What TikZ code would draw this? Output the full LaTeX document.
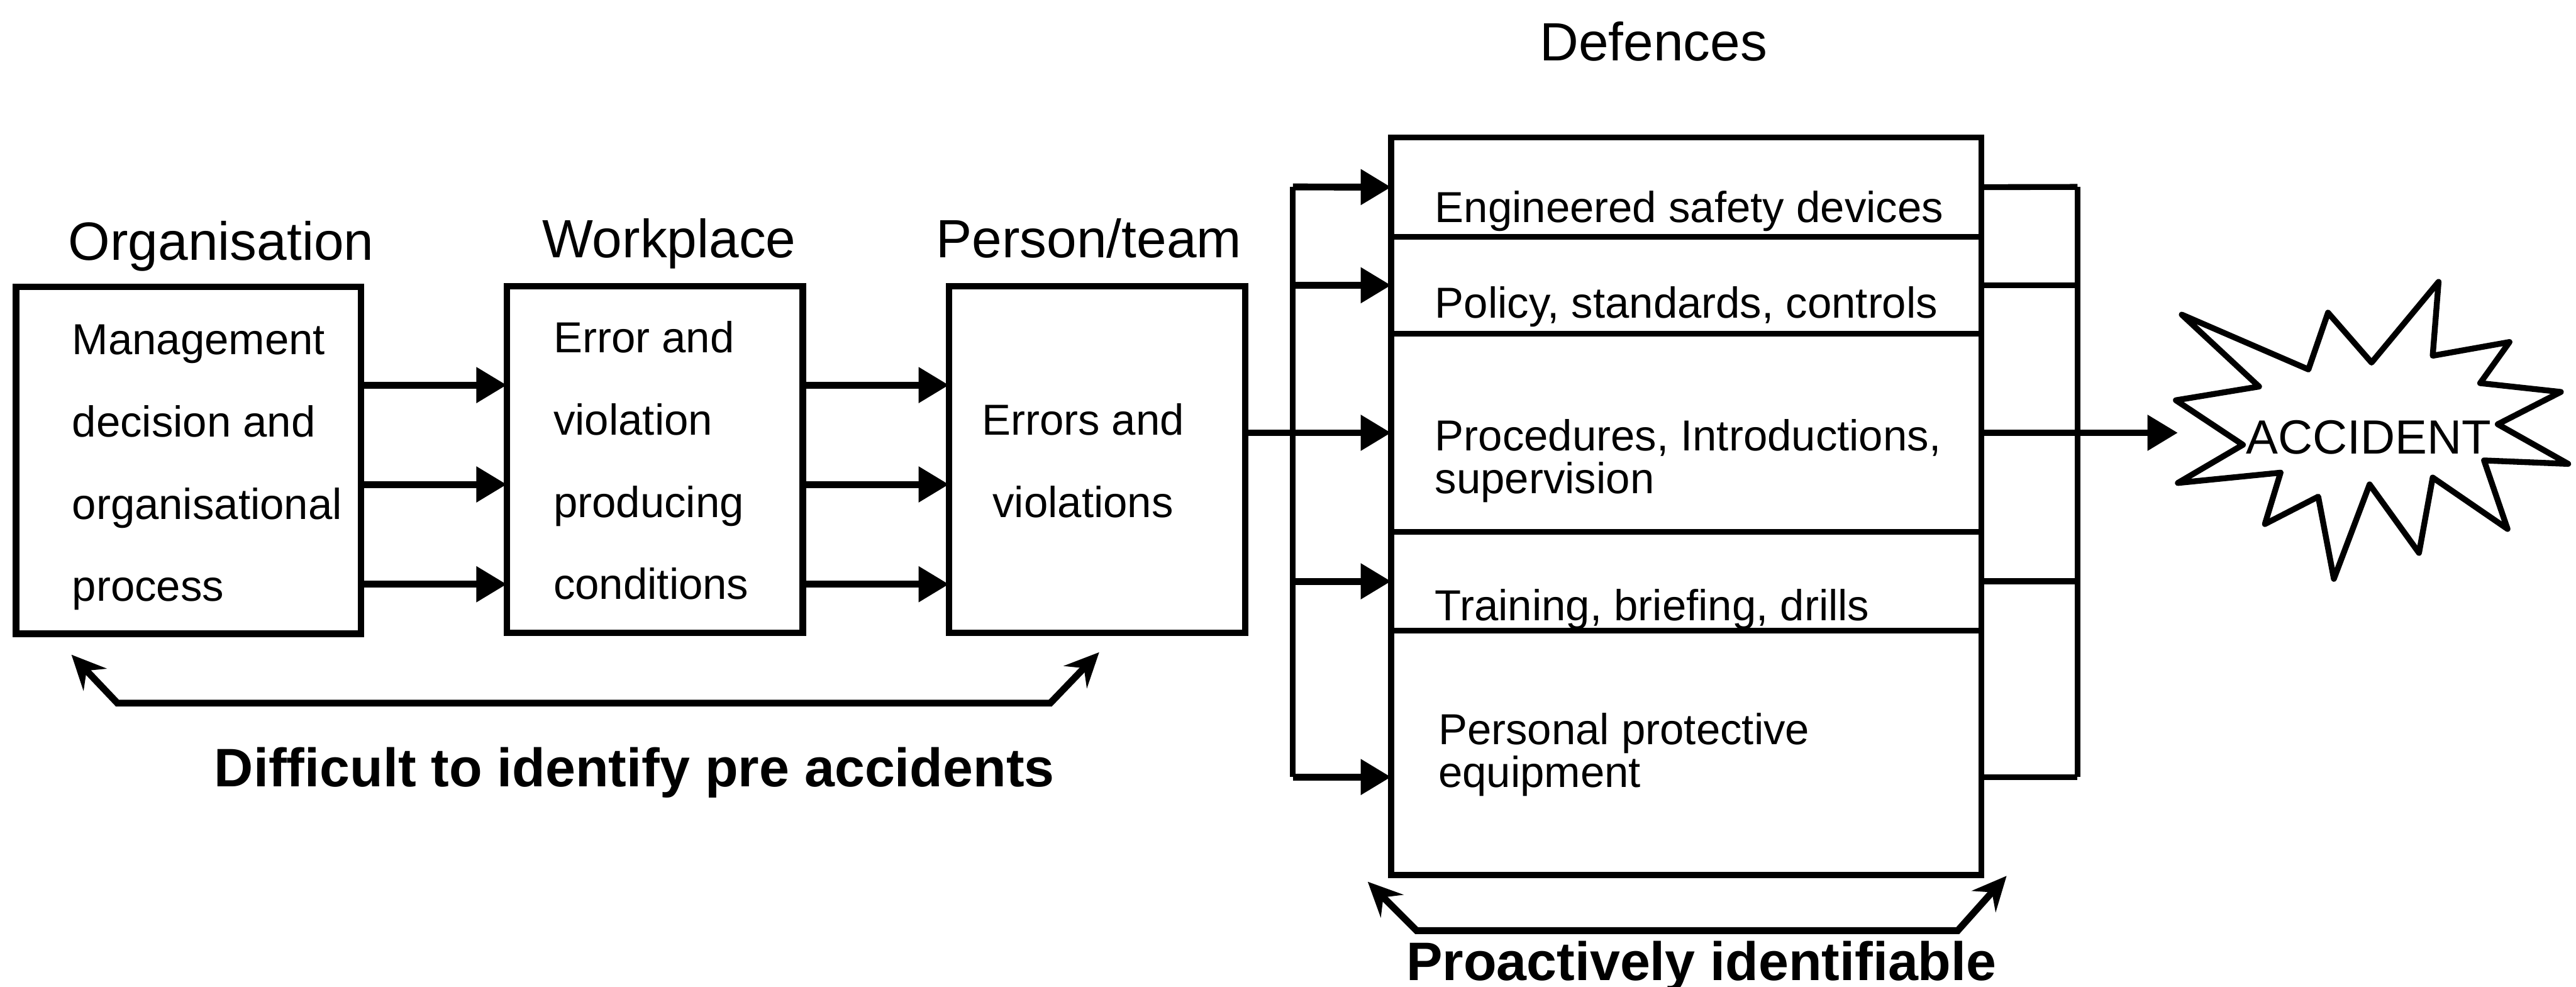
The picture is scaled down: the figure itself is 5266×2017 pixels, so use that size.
\documentclass[tikz,border=0pt]{standalone}
\usepackage{fontspec}
\setmainfont{Liberation Sans}
\usetikzlibrary{arrows.meta,calc}
\newcommand\looselines{\lineskiplimit=-100pt\relax}
\begin{document}
\begin{tikzpicture}[x=0.01cm,y=-0.01cm,
  line width=1.3mm,
  box/.style={draw, rectangle, line width=1.3mm, inner sep=0pt, outer sep=0pt},
  layer/.style={box, line width=1.2mm, minimum width=12.06cm},
  title/.style={font=\fontsize{31.3}{36}\selectfont, inner sep=0pt, anchor=base},
  body/.style={font={\fontsize{25.2}{47.8}\selectfont\looselines}, inner sep=0pt, align=left, anchor=base west},
  tight/.style={font={\fontsize{25.2}{24.8}\selectfont\looselines}, inner sep=0pt, align=left, anchor=base west},
  caption/.style={font=\fontsize{31.5}{36}\selectfont\bfseries, inner sep=0pt, anchor=base},
  arr/.style={line width=1.4mm, -{Triangle[length=6.2mm, width=7mm]}},
  link/.style={line width=1.2mm},
  span/.style={line width=1.4mm, line join=miter,
    {Stealth[length=7mm, width=6.5mm, inset=2.5mm]}-{Stealth[length=7mm, width=6.5mm, inset=2.5mm]}},
]
\useasboundingbox[fill=white] (0,0) rectangle (5266,2017);

% ---- causal chain: organisation -> workplace -> person/team ----
\node[box, minimum width=7.05cm, minimum height=7.08cm] (org) at (385.5,941) {};
\node[box, minimum width=6.05cm, minimum height=7.08cm] (wp)  at (1338.5,939) {};
\node[box, minimum width=6.05cm, minimum height=7.08cm] (per) at (2242.5,939) {};

\node[title] (orgT) at (452,531)  {Organisation};
\node[title] (wpT)  at (1368,527) {Workplace};
\node[title] (perT) at (2226,527) {Person/team};

% multi-line texts are anchored on the baseline of their last line
\node[body] (orgX) at (141,1229)  {Management\\decision and\\organisational\\process};
\node[body] (wpX)  at (1125,1225) {Error and\\violation\\producing\\conditions};
\node[body, align=center, anchor=base] (perX) at (2214,1057) {Errors and\\violations};

\foreach \i/\y in {1/787,2/990,3/1194}{
  \coordinate (lv\i) at (0,\y);
  \draw[arr] (org.east |- lv\i) -- (wp.west |- lv\i);
  \draw[arr] (wp.east |- lv\i) -- (per.west |- lv\i);
}

% ---- layered defences ----
\node[title] (defT) at (3380,124) {Defences};
\node[layer, minimum height=2.03cm] (esd)  at (3447,382.5)  {};
\node[layer, minimum height=1.98cm] (pol)  at (3447,583)    {};
\node[layer, minimum height=4.05cm] (proc) at (3447,884.5)  {};
\node[layer, minimum height=2.02cm] (trn)  at (3447,1188)   {};
\node[layer, minimum height=4.99cm] (ppe)  at (3447,1538.5) {};

\node[tight] (esdX)  at (2927,455)  {Engineered safety devices};
\node[tight] (polX)  at (2927,650)  {Policy, standards, controls};
\node[tight] (procX) at (2927,1008) {Procedures, Introductions,\\supervision};
\node[tight] (trnX)  at (2927,1268) {Training, briefing, drills};
\node[tight] (ppeX)  at (2934,1609) {Personal protective\\equipment};

% feed bus on the left of the defences
\coordinate (lbTop) at (2643,382);
\coordinate (lbBot) at (2643,1588);
\coordinate (ppeIn) at ($(ppe.west)+(0,49.5)$);
\draw[link] (lbTop) -- (lbBot);
\draw[arr] (lbTop) -- (esd.west);
\draw[arr] (lbTop |- pol.west) -- (pol.west);
\draw[arr] (per.east |- proc.west) -- (proc.west);
\draw[arr] (lbTop |- trn.west) -- (trn.west);
\draw[arr] (lbBot) -- (ppeIn);

% collecting bus on the right of the defences
\coordinate (rbTop) at (4247,382);
\coordinate (rbBot) at (4247,1588);
\coordinate (ppeOut) at ($(ppe.east)+(0,49.5)$);
\draw[link] (rbTop) -- (rbBot);
\draw[link] (esd.east) -- (rbTop);
\draw[link] (pol.east) -- (rbTop |- pol.east);
\draw[link] (trn.east) -- (rbTop |- trn.east);
\draw[link] (ppeOut) -- (rbBot);

% ---- the accident ----
\coordinate (accIn) at (4452,884.5);
\draw[line width=1.2mm, line join=round]
  (4460,643) -- (4719,755) -- (4759,639) -- (4848,741) -- (4985,576) --
  (4973,727) -- (5130,699) -- (5070,783) -- (5235,801) -- (5106,867) --
  (5250,948) -- (5078,941) -- (5126,1081) -- (4973,976) -- (4945,1130) --
  (4844,990) -- (4771,1183) -- (4739,1015) -- (4630,1071) -- (4662,966) --
  (4452,987) -- (4585,909) -- (4448,818) -- (4618,790) -- cycle;
\node[font=\fontsize{27.9}{30}\selectfont, inner sep=0pt, anchor=base] (acc) at (4842,927) {ACCIDENT};
\draw[arr] (proc.east) -- (accIn);

% ---- identification spans ----
\coordinate (s1a) at (146,1338);
\coordinate (s1b) at (240,1437);
\coordinate (s1c) at (2147,1437);
\coordinate (s1d) at (2247,1333);
\draw[span] (s1a) -- (s1b) -- (s1c) -- (s1d);
\node[caption] (hard) at (1297,1608) {Difficult to identify pre accidents};

\coordinate (s2a) at (2796,1802);
\coordinate (s2b) at (2896,1902);
\coordinate (s2c) at (4002,1902);
\coordinate (s2d) at (4102,1790);
\draw[span] (s2a) -- (s2b) -- (s2c) -- (s2d);
\node[caption] (pro) at (3478,2003) {Proactively identifiable};
\end{tikzpicture}
\end{document}
